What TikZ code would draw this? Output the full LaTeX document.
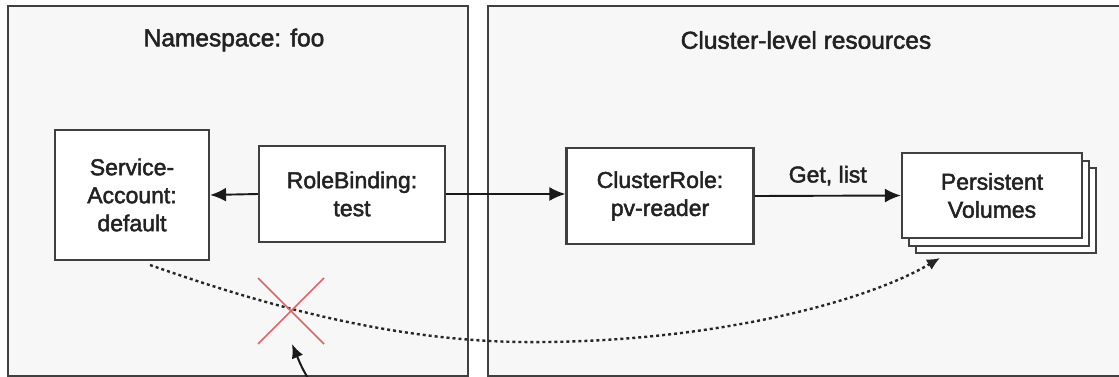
\documentclass[tikz,border=0pt]{standalone}
\usepackage{fontspec}
\setmainfont{Liberation Sans}
\newfontfamily\medfont[FakeBold=2]{Liberation Sans}
\usetikzlibrary{arrows.meta}
\definecolor{bord}{HTML}{404040}
\definecolor{panel}{HTML}{F7F7F7}
\definecolor{crossred}{HTML}{E06666}
\definecolor{ink}{HTML}{222222}
\tikzset{
  panelbox/.style={draw=bord, line width=2.8pt, fill=panel},
  itembox/.style={draw=bord, line width=2.2pt, fill=white, align=center, inner sep=0pt,
    text=ink, font=\medfont\fontsize{23}{28}\selectfont},
  title/.style={font=\medfont\fontsize{24.5}{28}\selectfont, text=ink},
  bigtip/.tip={Latex[length=16pt,width=14pt]},
  conn/.style={draw=black!90, line width=1.9pt, -bigtip},
  dotconn/.style={draw=black!85, line width=2.4pt, dash pattern=on 3pt off 3pt, -{Latex[length=13pt,width=12pt]}},
  crossline/.style={draw=crossred, line width=1.6pt}
}
\begin{document}
\begin{tikzpicture}[x=1pt,y=-1pt]
\useasboundingbox (0,0) rectangle (1119,377);
\begin{scope}
\clip (0,0) rectangle (1119,377);
% panels
\draw[panelbox] (8,6) rectangle (468,376);
\draw[panelbox] (488,6) rectangle (1130,376);
\node[title] (ns) at (234,40) {Namespace: foo};
\node[title] (cl) at (806,40) {Cluster-level resources};
% boxes
\node[itembox, minimum width=154pt, minimum height=130pt] (sa) at (132,195) {Service-\\Account:\\default};
\node[itembox, minimum width=186pt, minimum height=96pt] (rb) at (352,194) {RoleBinding:\\test};
\node[itembox, minimum width=187pt, minimum height=96pt] (cr) at (660,196) {ClusterRole:\\pv-reader};
% stacked persistent volumes
\draw[draw=bord, line width=2.2pt, fill=white] (916,168) rectangle (1096,253);
\draw[draw=bord, line width=2.2pt, fill=white] (909,161) rectangle (1089,246);
\node[itembox, minimum width=180pt, minimum height=85pt] (pv) at (992,195.5) {Persistent\\Volumes};
% connectors
\draw[conn] (rb.west) -- (sa.east);
\draw[conn] (rb.east) -- (cr.west |- rb.east);
\draw[conn] (cr.east) -- node[above=6pt, text=ink, font=\medfont\fontsize{23}{28}\selectfont] (gl) {Get, list} (pv.west);
% dotted curve
\coordinate (dstart) at (150,265);
\coordinate (dmid) at (520,342);
\coordinate (dend) at (940,258);
\draw[dotconn] (dstart) .. controls (250,300) and (380,340) .. (dmid) .. controls (700,344) and (860,305) .. (dend);
% red cross
\coordinate (x1) at (258,278);
\coordinate (x2) at (324,344);
\coordinate (x3) at (324,278);
\coordinate (x4) at (258,344);
\draw[crossline] (x1) -- (x2);
\draw[crossline] (x3) -- (x4);
% solid arrow from below
\coordinate (abot) at (312,385);
\coordinate (atip) at (292,344);
\draw[draw=black!90, line width=2pt, -{Latex[length=14pt,width=12pt]}] (abot) .. controls (302,368) .. (atip);
\end{scope}
\end{tikzpicture}
\end{document}
